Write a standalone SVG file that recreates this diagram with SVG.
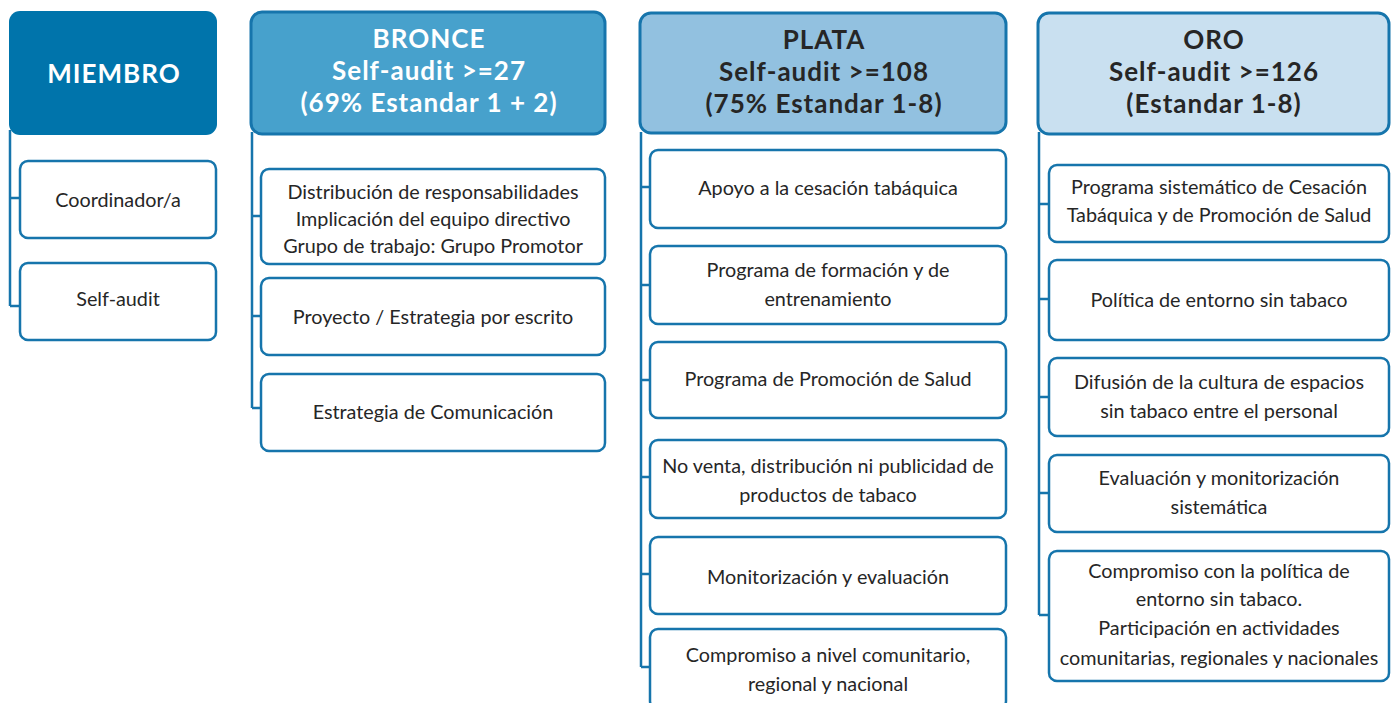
<svg xmlns="http://www.w3.org/2000/svg" width="1391" height="703" viewBox="0 0 1391 703">
<style>
.hd{stroke:#1675AC;stroke-width:3}
.bx{fill:#fff;stroke:#1675AC;stroke-width:2.5}
.ln{fill:none;stroke:#1675AC;stroke-width:2.5}
text{font-family:"Lato","Liberation Sans",sans-serif;text-anchor:middle;dominant-baseline:central}
.t{font-size:19.8px;fill:#262626}
.h{font-size:26px;font-weight:bold;letter-spacing:1px}
.w{fill:#fff}
.d{fill:#262626}
</style>
<rect width="1391" height="703" fill="#fff"/>
<g id="connectors">
<path class="ln" d="M10,130 V306 M10,198 H20 M10,306 H20"/>
<path class="ln" d="M252,132 V408 M252,216 H261 M252,316 H261 M252,408 H261"/>
<path class="ln" d="M641,132 V667 M641,187 H650 M641,285 H650 M641,380 H650 M641,477 H650 M641,574 H650 M641,667 H650"/>
<path class="ln" d="M1039,132 V615 M1039,204 H1049 M1039,299 H1049 M1039,397 H1049 M1039,493 H1049 M1039,615 H1049"/>
</g>
<g id="miembro"><rect x="9" y="11" width="208" height="124" rx="11" fill="#0074AB"/><text class="h w" x="114" y="73">MIEMBRO</text></g>
<g id="m1"><rect class="bx" x="20" y="161" width="196" height="77" rx="8"/><text class="t" x="118" y="199">Coordinador/a</text></g>
<g id="m2"><rect class="bx" x="20" y="263" width="196" height="77" rx="8"/><text class="t" x="118" y="298">Self-audit</text></g>
<g id="bronce"><rect class="hd" x="251" y="12" width="354" height="122" rx="11" fill="#47A1CC"/><text class="h w" x="429" y="38">BRONCE</text><text class="h w" x="429" y="70">Self-audit &gt;=27</text><text class="h w" x="429" y="102">(69% Estandar 1 + 2)</text></g>
<g id="b1"><rect class="bx" x="261" y="169" width="344" height="95" rx="8"/><text class="t" x="433" y="191">Distribución de responsabilidades</text><text class="t" x="433" y="218">Implicación del equipo directivo</text><text class="t" x="433" y="245">Grupo de trabajo: Grupo Promotor</text></g>
<g id="b2"><rect class="bx" x="261" y="278" width="344" height="77" rx="8"/><text class="t" x="433" y="316">Proyecto / Estrategia por escrito</text></g>
<g id="b3"><rect class="bx" x="261" y="374" width="344" height="77" rx="8"/><text class="t" x="433" y="411">Estrategia de Comunicación</text></g>
<g id="plata"><rect class="hd" x="640" y="13" width="366" height="120" rx="11" fill="#92C1E0"/><text class="h d" x="824" y="39">PLATA</text><text class="h d" x="824" y="71">Self-audit &gt;=108</text><text class="h d" x="824" y="103">(75% Estandar 1-8)</text></g>
<g id="p1"><rect class="bx" x="650" y="150" width="356" height="78" rx="8"/><text class="t" x="828" y="187">Apoyo a la cesación tabáquica</text></g>
<g id="p2"><rect class="bx" x="650" y="246" width="356" height="78" rx="8"/><text class="t" x="828" y="269">Programa de formación y de</text><text class="t" x="828" y="298">entrenamiento</text></g>
<g id="p3"><rect class="bx" x="650" y="342" width="356" height="76" rx="8"/><text class="t" x="828" y="378">Programa de Promoción de Salud</text></g>
<g id="p4"><rect class="bx" x="650" y="440" width="356" height="78" rx="8"/><text class="t" x="828" y="465">No venta, distribución ni publicidad de</text><text class="t" x="828" y="494">productos de tabaco</text></g>
<g id="p5"><rect class="bx" x="650" y="537" width="356" height="77" rx="8"/><text class="t" x="828" y="576">Monitorización y evaluación</text></g>
<g id="p6"><rect class="bx" x="650" y="629" width="356" height="80" rx="8"/><text class="t" x="828" y="654">Compromiso a nivel comunitario,</text><text class="t" x="828" y="683">regional y nacional</text></g>
<g id="oro"><rect class="hd" x="1038" y="13" width="351" height="121" rx="11" fill="#C9E0F0"/><text class="h d" x="1214" y="39">ORO</text><text class="h d" x="1214" y="71">Self-audit &gt;=126</text><text class="h d" x="1214" y="103">(Estandar 1-8)</text></g>
<g id="o1"><rect class="bx" x="1049" y="165" width="340" height="77" rx="8"/><text class="t" x="1219" y="186">Programa sistemático de Cesación</text><text class="t" x="1219" y="214">Tabáquica y de Promoción de Salud</text></g>
<g id="o2"><rect class="bx" x="1049" y="260" width="340" height="80" rx="8"/><text class="t" x="1219" y="299">Política de entorno sin tabaco</text></g>
<g id="o3"><rect class="bx" x="1049" y="358" width="340" height="78" rx="8"/><text class="t" x="1219" y="381">Difusión de la cultura de espacios</text><text class="t" x="1219" y="410">sin tabaco entre el personal</text></g>
<g id="o4"><rect class="bx" x="1049" y="455" width="340" height="77" rx="8"/><text class="t" x="1219" y="477">Evaluación y monitorización</text><text class="t" x="1219" y="506">sistemática</text></g>
<g id="o5"><rect class="bx" x="1049" y="551" width="340" height="130" rx="8"/><text class="t" x="1219" y="570">Compromiso con la política de</text><text class="t" x="1219" y="598">entorno sin tabaco.</text><text class="t" x="1219" y="627">Participación en actividades</text><text class="t" x="1219" y="657">comunitarias, regionales y nacionales</text></g>
</svg>
